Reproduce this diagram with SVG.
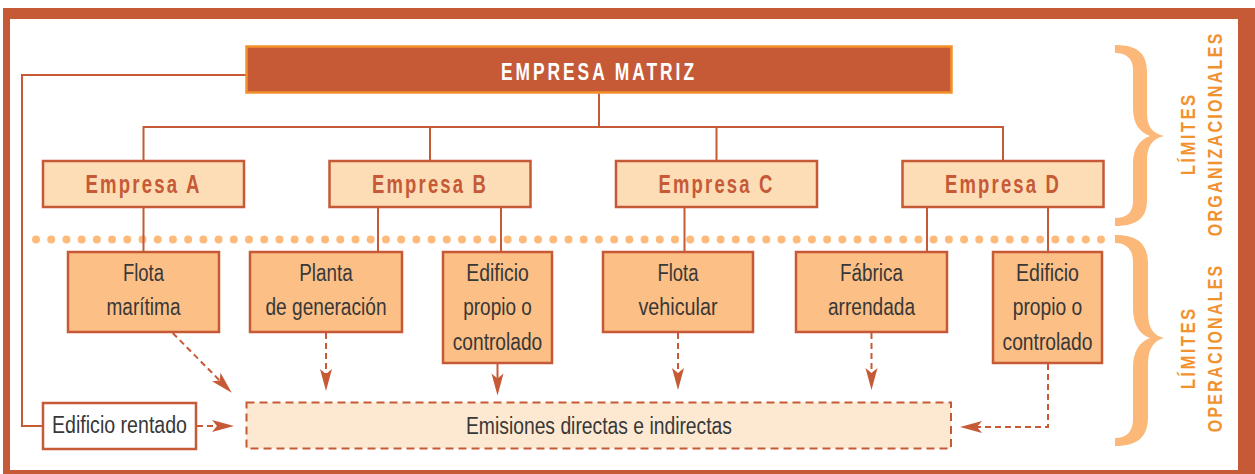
<svg xmlns="http://www.w3.org/2000/svg" width="1255" height="474" viewBox="0 0 1255 474">
<style>
.conn{fill:none;stroke:#C65A36;stroke-width:2}
.dash{stroke-dasharray:6 4}
.boxE{fill:#FDDDB6;stroke:#C65A36;stroke-width:2.5}
.boxO{fill:#FCBF86;stroke:#C65A36;stroke-width:2.5}
.lblE{font-family:"Liberation Sans",Arial,sans-serif;font-weight:bold;font-size:25.5px;fill:#C65A36;letter-spacing:3px;text-anchor:middle}
.lbl{font-family:"Liberation Sans",Arial,sans-serif;font-size:23.3px;fill:#383838;text-anchor:middle}
.vt{font-family:"Liberation Sans",Arial,sans-serif;font-weight:bold;font-size:21px;fill:#F2922F;letter-spacing:3px;text-anchor:middle}
.brace{fill:#FBB878}
</style>
<defs>
<marker id="ah" markerUnits="userSpaceOnUse" markerWidth="22" markerHeight="14" refX="16" refY="7" orient="auto" overflow="visible">
<path d="M0,1 L22,7 L0,13 L5,7 Z" fill="#C65A36"/>
</marker>
</defs>

<g id="frame">
<rect x="3" y="8" width="1252" height="466" fill="#C65A36"/>
<rect x="10" y="19" width="1228" height="451" fill="#FFFFFF"/>
</g>

<g id="limites">
<path class="brace" d="M1115,45 C1137,45 1147,53 1147,72 L1147,112 C1147,127 1152,133 1164,136 C1152,139 1147,146 1147,161 L1147,200 C1147,218 1137,226 1115,226 L1115,218 C1127,218 1133,212 1133,201 L1133,164 C1133,149 1139,140 1150,136 C1139,132 1133,123 1133,108 L1133,70 C1133,59 1127,53 1115,53 Z"/>
<path class="brace" d="M1115,235 C1138,235 1148,244 1148,264 L1148,312 C1148,328 1153,335 1164,338 C1153,341 1148,349 1148,365 L1148,417 C1148,437 1138,446 1115,446 L1115,438 C1127,438 1133,431 1133,419 L1133,368 C1133,352 1139,342 1150,338 C1139,334 1133,324 1133,308 L1133,262 C1133,250 1127,243 1115,243 Z"/>
<text class="vt" transform="translate(1195,135) rotate(-90) scale(0.8,1)" x="1.5">LÍMITES</text>
<text class="vt" transform="translate(1222,135) rotate(-90) scale(0.764,1)" x="1.5">ORGANIZACIONALES</text>
<text class="vt" transform="translate(1195,349) rotate(-90) scale(0.8,1)" x="1.5">LÍMITES</text>
<text class="vt" transform="translate(1222,349) rotate(-90) scale(0.76,1)" x="1.5">OPERACIONALES</text>
</g>

<g id="divisoria">
<line x1="36" y1="239.5" x2="1101" y2="239.5" stroke="#FDBA7B" stroke-width="8" stroke-linecap="round" stroke-dasharray="0 15.214"/>
</g>

<g id="connectors">
<path class="conn" d="M246,75 H22 V426 H43"/>
<path class="conn" d="M599,93 V127"/>
<path class="conn" d="M143.5,161 V127 H1003 V161"/>
<path class="conn" d="M430,127 V161 M716.5,127 V161"/>
<path class="conn" d="M143.5,207 V252 M378,207 V252 M501,207 V252 M684.5,207 V252 M927,207 V252 M1048,207 V252"/>
<path class="conn dash" d="M172.7,333 L227.5,388.4" marker-end="url(#ah)"/>
<path class="conn dash" d="M326,333 V385" marker-end="url(#ah)"/>
<path class="conn" d="M497.5,363 V389.5" marker-end="url(#ah)"/>
<path class="conn dash" d="M678,333 V384" marker-end="url(#ah)"/>
<path class="conn dash" d="M871.5,333 V384" marker-end="url(#ah)"/>
<path class="conn dash" d="M1048,364 V427 H966" marker-end="url(#ah)"/>
<path class="conn dash" d="M197,426 H228" marker-end="url(#ah)"/>
</g>

<g id="empresa-matriz">
<rect x="246.5" y="46.5" width="705" height="46" fill="#C65A36" stroke="#F4902A" stroke-width="2.5"/>
<text class="lblE" x="599" y="80" style="fill:#FFFFFF;font-size:23.3px;letter-spacing:4px" textLength="196" lengthAdjust="spacingAndGlyphs">EMPRESA MATRIZ</text>
</g>

<g id="empresa-a">
<rect class="boxE" x="43" y="161" width="201" height="46"/>
<text class="lblE" x="143.5" y="192.5" textLength="116" lengthAdjust="spacingAndGlyphs">Empresa A</text>
</g>
<g id="empresa-b">
<rect class="boxE" x="329.5" y="161" width="201" height="46"/>
<text class="lblE" x="430" y="192.5" textLength="116" lengthAdjust="spacingAndGlyphs">Empresa B</text>
</g>
<g id="empresa-c">
<rect class="boxE" x="616" y="161" width="201" height="46"/>
<text class="lblE" x="716.5" y="192.5" textLength="116" lengthAdjust="spacingAndGlyphs">Empresa C</text>
</g>
<g id="empresa-d">
<rect class="boxE" x="902.5" y="161" width="201" height="46"/>
<text class="lblE" x="1003" y="192.5" textLength="116" lengthAdjust="spacingAndGlyphs">Empresa D</text>
</g>

<g id="flota-maritima">
<rect class="boxO" x="68" y="252" width="151" height="80"/>
<text class="lbl" x="143.5" y="280.5" textLength="41" lengthAdjust="spacingAndGlyphs">Flota</text>
<text class="lbl" x="143.5" y="315" textLength="74" lengthAdjust="spacingAndGlyphs">marítima</text>
</g>
<g id="planta-generacion">
<rect class="boxO" x="250" y="252" width="152" height="80"/>
<text class="lbl" x="326" y="280.5" textLength="53.5" lengthAdjust="spacingAndGlyphs">Planta</text>
<text class="lbl" x="326" y="315" textLength="121" lengthAdjust="spacingAndGlyphs">de generación</text>
</g>
<g id="edificio-propio-b">
<rect class="boxO" x="443" y="252" width="109" height="111"/>
<text class="lbl" x="497.5" y="280.5" textLength="62.5" lengthAdjust="spacingAndGlyphs">Edificio</text>
<text class="lbl" x="497.5" y="315" textLength="68.5" lengthAdjust="spacingAndGlyphs">propio o</text>
<text class="lbl" x="497.5" y="349.5" textLength="89.5" lengthAdjust="spacingAndGlyphs">controlado</text>
</g>
<g id="flota-vehicular">
<rect class="boxO" x="603" y="252" width="150" height="80"/>
<text class="lbl" x="678" y="280.5" textLength="41" lengthAdjust="spacingAndGlyphs">Flota</text>
<text class="lbl" x="678" y="315" textLength="79" lengthAdjust="spacingAndGlyphs">vehicular</text>
</g>
<g id="fabrica-arrendada">
<rect class="boxO" x="796" y="252" width="151" height="80"/>
<text class="lbl" x="871.5" y="280.5" textLength="63" lengthAdjust="spacingAndGlyphs">Fábrica</text>
<text class="lbl" x="871.5" y="315" textLength="87" lengthAdjust="spacingAndGlyphs">arrendada</text>
</g>
<g id="edificio-propio-d">
<rect class="boxO" x="993" y="252" width="109" height="111"/>
<text class="lbl" x="1047.5" y="280.5" textLength="63" lengthAdjust="spacingAndGlyphs">Edificio</text>
<text class="lbl" x="1047.5" y="315" textLength="69.5" lengthAdjust="spacingAndGlyphs">propio o</text>
<text class="lbl" x="1047.5" y="349.5" textLength="90" lengthAdjust="spacingAndGlyphs">controlado</text>
</g>

<g id="edificio-rentado">
<rect x="43" y="403" width="153" height="46" fill="#FFFFFF" stroke="#C65A36" stroke-width="2.5"/>
<text class="lbl" x="119.5" y="433" textLength="135" lengthAdjust="spacingAndGlyphs">Edificio rentado</text>
</g>

<g id="emisiones">
<rect x="246.5" y="402.5" width="704.5" height="46" fill="#FDE9D2" stroke="#C65A36" stroke-width="2" stroke-dasharray="8 5"/>
<text class="lbl" x="599" y="434" textLength="266" lengthAdjust="spacingAndGlyphs">Emisiones directas e indirectas</text>
</g>
</svg>
